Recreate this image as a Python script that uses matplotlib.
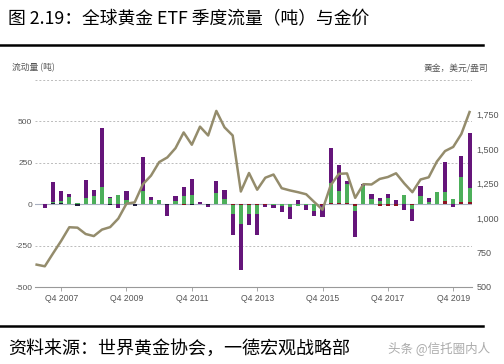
import numpy as np
import matplotlib
matplotlib.use("Agg")
import matplotlib.pyplot as plt
from matplotlib.lines import Line2D

plt.rcParams['font.family'] = ['Liberation Sans', 'Noto Sans CJK SC', 'DejaVu Sans']

# 季度: Q1 2007 ... Q2 2020
quarters = [f"Q{q} {y}" for y in range(2007, 2021) for q in range(1, 5)][:54]
tick_labels = ["Q4 2007", "Q4 2009", "Q4 2011", "Q4 2013", "Q4 2015", "Q4 2017", "Q4 2019"]

# ETF 流量 (吨), 按地区
north_america = [0, -20, 117, 59, 20, 0, 109, 31, 356, 6, -20, 57, 0, 208, 18, 0, -70, 28, 55, 98,
                 10, -14, 70, 49, -129, -283, -70, -127, -10, -20, -35, -75, 24, -30, -30, -70,
                 212, 158, 18, -160, 14, 30, 20, 20, 28, -34, -72, 57, 24, 0, 182, -14, 127, 329]
europe = [0, 3, 8, 15, 38, 8, 36, 50, 102, 40, 52, 20, 3, 76, 22, 28, 0, 18, 48, 55,
          2, 0, 67, 32, -55, -115, -55, -59, -2, -3, -10, -16, -8, -5, -44, 0,
          122, 72, 115, -30, 103, 30, 18, 40, 0, 55, -24, 52, 12, 70, 50, 30, 151, 85]
asia = [0, 0, 0, 0, 0, 0, 0, 0, 0, 0, 0, 0, 0, 0, 0, 0, 0, 0, -5, 0,
        0, 0, 0, 0, -2, -2, -2, -2, -4, 0, 0, 0, 0, 0, 0, -5,
        6, 6, 5, -10, 4, 0, -8, -10, -12, 0, -6, 0, 4, 3, 22, 3, 14, 14]
other = [0, 0, 8, 5, 3, -12, 0, 2, 3, -6, 2, 3, -8, 3, 2, 0, -3, 2, 2, -5,
         2, -2, 2, 2, 0, 0, 0, 0, 0, 0, 0, 0, 0, 0, 0, 0,
         0, 0, 0, 0, 0, 0, 0, 0, 0, 0, 0, 0, 0, 0, 0, 0, 0, 0]

# 金价 (美元/盎司, 季末)
gold_price = [662, 650, 743, 834, 933, 930, 884, 869, 916, 934, 996, 1104, 1113, 1244, 1307, 1405,
              1439, 1506, 1620, 1531, 1662, 1598, 1776, 1657, 1598, 1192, 1326, 1205, 1292, 1315,
              1216, 1200, 1187, 1172, 1115, 1060, 1237, 1320, 1323, 1146, 1245, 1243, 1283, 1297,
              1324, 1251, 1187, 1279, 1295, 1409, 1485, 1515, 1609, 1768]

x = np.arange(len(quarters))
series = [(other, "#1f1d3a"), (asia, "#8b1220"), (europe, "#4caf5a"), (north_america, "#65157a")]

fig = plt.figure(figsize=(5.04, 3.64), dpi=100)
ax = fig.add_axes([35 / 504, (364 - 287) / 364, (472 - 35) / 504, 207 / 364])

pos_bottom = np.zeros(len(x))
neg_bottom = np.zeros(len(x))
for vals, col in series:
    v = np.array(vals, dtype=float)
    pos = np.where(v > 0, v, 0)
    neg = np.where(v < 0, v, 0)
    ax.bar(x, pos, width=0.5, bottom=pos_bottom, color=col, zorder=3)
    ax.bar(x, neg, width=0.5, bottom=neg_bottom, color=col, zorder=3)
    pos_bottom += pos
    neg_bottom += neg

ax.axhline(0, color="#a9b0c0", lw=0.8, zorder=2)
for yv in [750, 500, 250, -250]:
    ax.axhline(yv, color="#bbbbbb", lw=0.7, ls=(0, (2, 2)), zorder=1)

ax.set_xlim(-0.2, 53.3)
ax.set_ylim(-500, 750)
ax.set_yticks([-500, -250, 0, 250, 500])
ax.set_yticklabels(["-500", "-250", "0", "250", "500"])
ax.set_xticks([quarters.index(t) for t in tick_labels])
ax.set_xticklabels(tick_labels)
ax.tick_params(axis="y", length=0, labelsize=6, labelcolor="#555555", pad=2)
ax.tick_params(axis="x", length=3, width=0.6, color="#999999", labelsize=6.2,
               labelcolor="#555555", pad=2)
for s in ["top", "right", "left"]:
    ax.spines[s].set_visible(False)
ax.spines["bottom"].set_color("#999999")
ax.spines["bottom"].set_linewidth(0.8)

ax2 = ax.twinx()
ax2.plot(x, gold_price, color="#948c6c", lw=1.8, zorder=4)
ax2.set_ylim(500, 2000)
ax2.set_yticks([500, 750, 1000, 1250, 1500, 1750])
ax2.set_yticklabels(["500", "750", "1,000", "1,250", "1,500", "1,750"])
ax2.tick_params(axis="y", length=0, labelsize=6.5, labelcolor="#555555", pad=3)
for s in ["top", "right", "left", "bottom"]:
    ax2.spines[s].set_visible(False)

fig.text(12 / 504, 1 - 68 / 364, "流动量 (吨)", fontsize=6.3, color="#555555",
         family=["Noto Sans CJK SC"], va="center")
fig.text(488 / 504, 1 - 68 / 364, "黄金，美元/盎司", fontsize=6.3, color="#555555",
         family=["Noto Sans CJK SC"], va="center", ha="right")

fig.text(8 / 504, 1 - 19 / 364, "图 2.19：全球黄金 ETF 季度流量（吨）与金价", fontsize=12.8,
         family=["Noto Sans CJK SC", "DejaVu Sans"], va="center")
fig.add_artist(Line2D([0, 483 / 504], [1 - 45 / 364] * 2, color="black", lw=1.8))
fig.add_artist(Line2D([0, 483 / 504], [1 - 326 / 364] * 2, color="black", lw=1.8))
fig.text(8 / 504, 1 - 349 / 364, "资料来源：世界黄金协会，一德宏观战略部", fontsize=13,
         family=["Noto Sans CJK SC", "DejaVu Sans"], va="center")
fig.text(388 / 504, 1 - 348 / 364, "头条 @信托圈内人", fontsize=9, color="#aaaaaa",
         family=["Noto Sans CJK SC", "DejaVu Sans"], va="center")

fig.savefig("out.png", dpi=100)
